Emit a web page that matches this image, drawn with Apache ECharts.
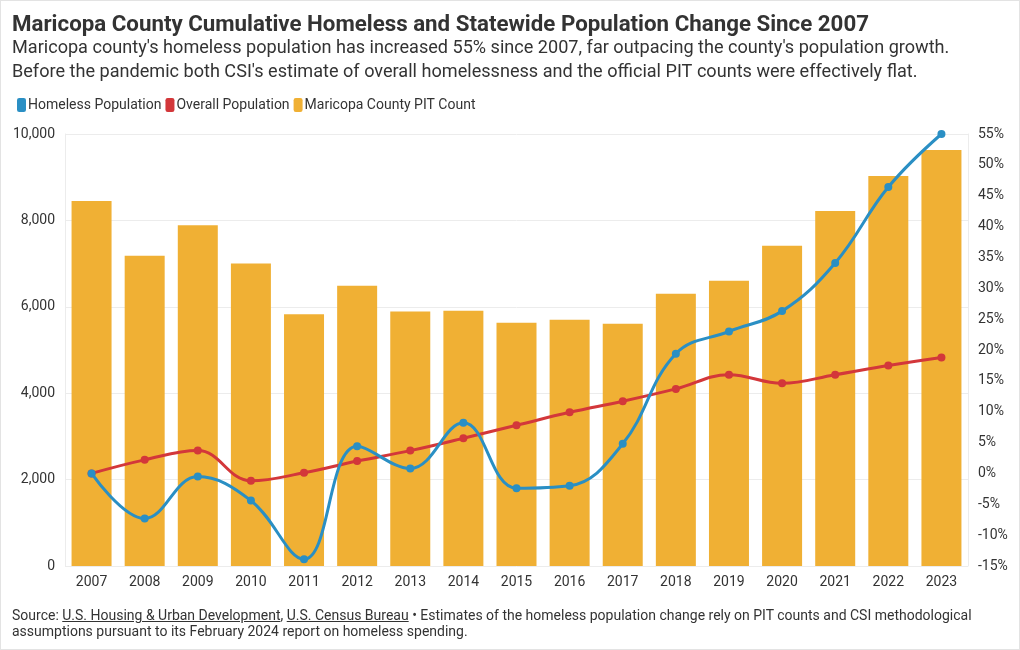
<!DOCTYPE html>
<html>
<head>
<meta charset="utf-8">
<script src="https://cdn.jsdelivr.net/npm/echarts@6/dist/echarts.min.js"></script>
<style>
html,body{margin:0;padding:0;background:#fff;}
#wrap{position:relative;width:1020px;height:650px;box-sizing:border-box;border:1px solid #e3e3e3;}
#chart{position:absolute;left:0;top:0;width:1018px;height:648px;}
#foot{position:absolute;left:11px;top:606px;width:1000px;font-family:Roboto,sans-serif;font-size:14px;line-height:16px;color:#333;white-space:nowrap;}
#foot u{text-decoration:underline;}
</style>
</head>
<body>
<div id="wrap">
<div id="chart"></div>
<div id="foot">Source: <u>U.S. Housing &amp; Urban Development</u>, <u>U.S. Census Bureau</u> • Estimates of the homeless population change rely on PIT counts and CSI methodological<br>assumptions pursuant to its February 2024 report on homeless spending.</div>
</div>
<script>
var years = ['2007','2008','2009','2010','2011','2012','2013','2014','2015','2016','2017','2018','2019','2020','2021','2022','2023'];
var pitCount = [8450, 7180, 7890, 7000, 5830, 6490, 5890, 5910, 5630, 5700, 5605, 6300, 6605, 7415, 8220, 9030, 9630];
var homelessChange = [0, -7.3, -0.5, -4.4, -13.9, 4.4, 0.8, 8.2, -2.4, -2.0, 4.8, 19.4, 23.0, 26.3, 34.1, 46.4, 55.0];
var overallChange = [0, 2.2, 3.7, -1.2, 0.1, 2.0, 3.7, 5.7, 7.8, 9.9, 11.7, 13.7, 16.0, 14.6, 16.0, 17.5, 18.8];

var titleText = 'Maricopa County Cumulative Homeless and Statewide Population Change Since 2007';
var subText = "Maricopa county's homeless population has increased 55% since 2007, far outpacing the county's population growth.\nBefore the pandemic both CSI's estimate of overall homelessness and the official PIT counts were effectively flat.";

var chart = echarts.init(document.getElementById('chart'));
var font = 'Roboto, sans-serif';
chart.setOption({
  animation: false,
  textStyle: {fontFamily: font},
  title: {
    text: titleText,
    subtext: subText,
    left: 11, top: 10, padding: 0,
    itemGap: -3,
    textStyle: {fontFamily: font, fontSize: 22.3, fontWeight: 'bold', color: '#333', lineHeight: 28},
    subtextStyle: {fontFamily: font, fontSize: 18.1, color: '#333', lineHeight: 24}
  },
  legend: {
    left: 11, top: 92,
    itemWidth: 9, itemHeight: 14, itemGap: 4,
    icon: 'roundRect',
    textStyle: {fontFamily: font, fontSize: 14, color: '#333', padding: [0,0,0,-3]},
    data: ['Homeless Population','Overall Population','Maricopa County PIT Count']
  },
  grid: {left: 64, right: 51, top: 133, bottom: 83, containLabel: false},
  xAxis: {
    type: 'category',
    data: years,
    axisLine: {show: false},
    axisTick: {show: false},
    axisLabel: {fontFamily: font, fontSize: 14, color: '#333', margin: 9}
  },
  yAxis: [{
    type: 'value', min: 0, max: 10000, interval: 2000,
    axisLine: {show: true, lineStyle: {color: '#ececec'}},
    axisTick: {show: false},
    splitLine: {lineStyle: {color: '#ececec'}},
    axisLabel: {fontFamily: font, fontSize: 14, color: '#333', margin: 10,
      formatter: function(v){return v.toLocaleString('en-US');}}
  },{
    type: 'value', min: -15, max: 55, interval: 5,
    axisLine: {show: true, lineStyle: {color: '#ececec'}},
    axisTick: {show: false},
    splitLine: {show: false},
    axisLabel: {fontFamily: font, fontSize: 14, color: '#333', margin: 10,
      formatter: function(v){return v + '%';}}
  }],
  series: [{
    name: 'Maricopa County PIT Count',
    type: 'bar',
    data: pitCount,
    yAxisIndex: 0,
    barWidth: 40,
    itemStyle: {color: '#f0b034'},
    z: 1
  },{
    name: 'Homeless Population',
    type: 'line',
    data: homelessChange,
    yAxisIndex: 1,
    smooth: 0.4,
    symbol: 'circle', symbolSize: 8,
    lineStyle: {width: 3, color: '#2a8fc4'},
    itemStyle: {color: '#2a8fc4'},
    z: 3
  },{
    name: 'Overall Population',
    type: 'line',
    data: overallChange,
    yAxisIndex: 1,
    smooth: 0.4,
    symbol: 'circle', symbolSize: 8,
    lineStyle: {width: 3, color: '#d3373a'},
    itemStyle: {color: '#d3373a'},
    z: 2
  }]
});
</script>
</body>
</html>
